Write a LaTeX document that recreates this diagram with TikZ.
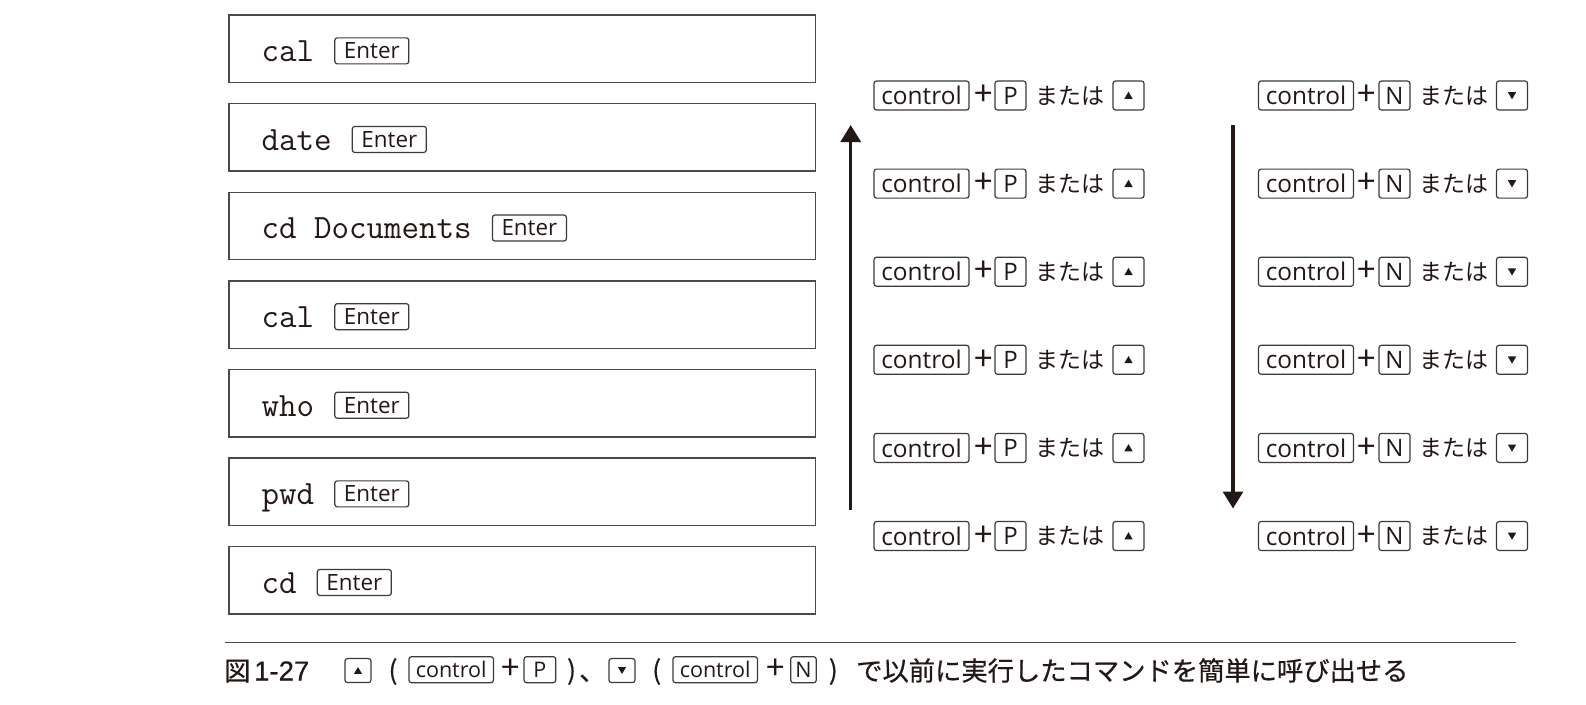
\documentclass[tikz,border=0pt]{standalone}
\usepackage{fontspec}
\usetikzlibrary{calc,arrows.meta}
\newfontfamily\jpf{Noto Sans CJK JP}
\newfontfamily\jpcapf[FakeBold=0.6]{Noto Sans CJK JP}
\newfontfamily\keyf{Open Sans}
\newfontfamily\numf[FakeBold=0.6]{Liberation Sans}
\definecolor{ink}{HTML}{231815}
\definecolor{boxc}{HTML}{4A4A4A}
\definecolor{keyc}{HTML}{3A3A3A}
\tikzset{
  cmdbox/.style={draw=boxc, line width=1.4pt, minimum width=586.7pt, minimum height=67.5pt, inner sep=0pt},
  cmdtext/.style={inner sep=0pt, anchor=base west, text=ink, font=\ttfamily\fontsize{34}{36}\selectfont},
  kbase/.style={draw=keyc, line width=1.2pt, rounded corners=2.5pt, inner sep=0pt, text=ink},
  enterkey/.style={kbase, minimum width=74pt, minimum height=26pt, font=\keyf\fontsize{22.4}{24}\selectfont},
  ctlkey/.style={kbase, minimum width=95pt, minimum height=29pt, font=\keyf\fontsize{24.4}{26}\selectfont},
  letkey/.style={kbase, minimum width=31pt, minimum height=29pt, font=\keyf\fontsize{24}{26}\selectfont},
  arrkey/.style={kbase, minimum width=31pt, minimum height=29pt},
  capctl/.style={kbase, minimum width=84.5pt, minimum height=26pt, font=\keyf\fontsize{21.5}{23}\selectfont},
  caplet/.style={kbase, minimum height=26pt, font=\keyf\fontsize{21.5}{23}\selectfont},
  caparr/.style={kbase, minimum width=26pt, minimum height=24pt},
  plussign/.style={inner sep=0pt, text=ink, font=\jpf\fontsize{33}{35}\selectfont},
  jptext/.style={inner sep=0pt, text=ink, font=\jpf\fontsize{23}{25}\selectfont},
  capjp/.style={inner sep=0pt, text=ink, font=\jpcapf\fontsize{26.3}{28}\selectfont},
  bigarrow/.style={draw=ink, line width=3.3pt, -{Triangle[width=20pt,length=17pt]}},
  capline/.style={draw=boxc, line width=1.5pt},
}
\begin{document}
\begin{tikzpicture}[x=1pt,y=-1pt]
\useasboundingbox (0,0) rectangle (1586,704);
% left command boxes
\foreach \c [count=\i from 0] in {cal,date,cd Documents,cal,who,pwd,cd}{
  \pgfmathsetmacro\tp{15+88.6*\i}
  \node[cmdbox] (box\i) at (522.35,\tp+33.75) {};
  \node[cmdtext] (cmd\i) at (261.3,\tp+46.7) {\c};
  \node[enterkey, anchor=west] (ent\i) at ($(cmd\i.base east)+(20,-10.85)$) {Enter};
}
% right key rows
\foreach \i in {0,...,5}{
  \pgfmathsetmacro\yy{95.5+88.1*\i}
  \node[ctlkey] (pc\i) at (921.5,\yy) {control};
  \node[plussign] (pp\i) at (984,\yy) {+};
  \node[letkey] (pk\i) at (1010.5,\yy) {P};
  \node[jptext] (po\i) at (1069.5,\yy) {または};
  \node[arrkey] (pa\i) at (1128.5,\yy) {};
  \fill[ink] ($(pa\i.center)+(0,-3.8)$) -- ++(4.2,7.2) -- ++(-8.4,0) -- cycle;
  \node[ctlkey] (nc\i) at (1306,\yy) {control};
  \node[plussign] (np\i) at (1366.5,\yy) {+};
  \node[letkey] (nk\i) at (1394.5,\yy) {N};
  \node[jptext] (no\i) at (1453.5,\yy) {または};
  \node[arrkey] (na\i) at (1512,\yy) {};
  \fill[ink] ($(na\i.center)+(0,3.8)$) -- ++(4.2,-7.2) -- ++(-8.4,0) -- cycle;
}
% arrows
\coordinate (upS) at (850.7,510);
\coordinate (upE) at (850.7,125);
\coordinate (dnS) at (1233,125);
\coordinate (dnE) at (1233,508.5);
\draw[bigarrow] (upS) -- (upE);
\draw[bigarrow] (dnS) -- (dnE);
% caption
\coordinate (capL) at (225,642.3);
\coordinate (capR) at (1515.7,642.3);
\draw[capline] (capL) -- (capR);
\node[capjp, anchor=base west] (fig) at (224,680.5) {図};
\node[inner sep=0pt, text=ink, anchor=base west, font=\numf\fontsize{27.5}{29}\selectfont] (num) at (254,680.5) {1-27};
\node[caparr] (cu) at (358,670.5) {};
\fill[ink] ($(cu.center)+(0,-3.5)$) -- ++(4,6.8) -- ++(-8,0) -- cycle;
\node[capjp] (pa1) at (393,671.5) {(};
\node[capctl] (cc1) at (451.2,669.7) {control};
\node[plussign] (cp1) at (510.8,669.5) {+};
\node[caplet, minimum width=31.7pt] (ck1) at (539.9,669.7) {P};
\node[capjp] (pa2) at (571.5,671.5) {)};
\node[capjp, anchor=base west] (cm) at (579,680.5) {、};
\node[caparr] (cd) at (622,670.5) {};
\fill[ink] ($(cd.center)+(0,3.5)$) -- ++(4,-6.8) -- ++(-8,0) -- cycle;
\node[capjp] (pa3) at (656.7,671.5) {(};
\node[capctl] (cc2) at (715.2,669.7) {control};
\node[plussign] (cp2) at (775.8,669.5) {+};
\node[caplet, minimum width=25.5pt] (ck2) at (803.5,669.7) {N};
\node[capjp] (pa4) at (833.3,671.5) {)};
\node[capjp, anchor=base west] (ctext) at (856,680.5) {で以前に実行したコマンドを簡単に呼び出せる};
\end{tikzpicture}
\end{document}
